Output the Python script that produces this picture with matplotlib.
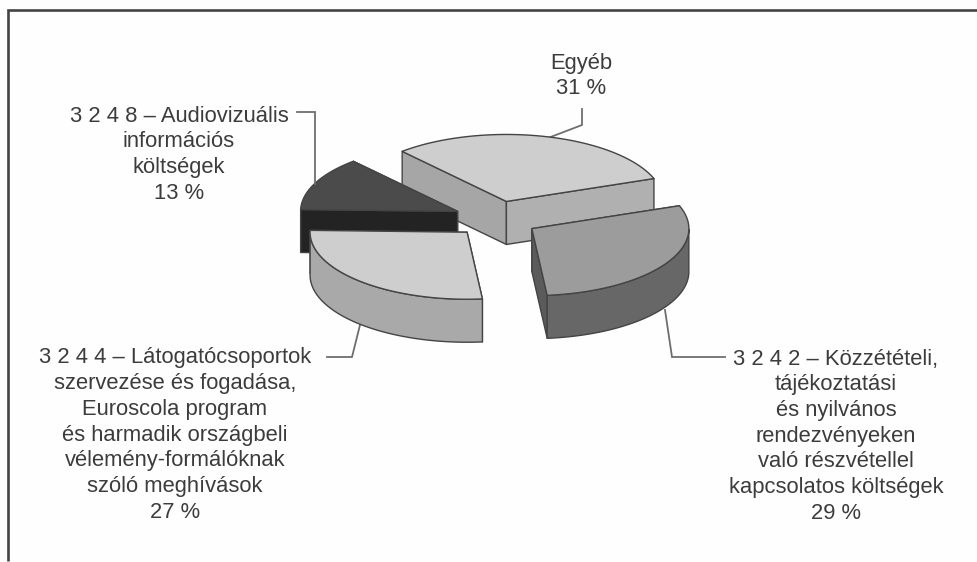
import numpy as np
import matplotlib
matplotlib.use("Agg")
import matplotlib.pyplot as plt
from matplotlib.patches import Polygon

plt.rcParams['font.family'] = ['Liberation Sans', 'DejaVu Sans']

# data
names = ["Egyéb", "3 2 4 2", "3 2 4 4", "3 2 4 8"]
values = [31, 29, 27, 13]
top_colors = ["#cecece", "#9c9c9c", "#cecece", "#4b4b4b"]
side_colors = ["#a9a9a9", "#676767", "#a9a9a9", "#232323"]
start_side = ["#a6a6a6", "#676767", "#a9a9a9", "#232323"]
end_side = ["#b0b0b0", "#5b5b5b", "#a9a9a9", "#232323"]
draw_order = [0, 3, 1, 2]

label_lines = [
    ["Egyéb", "31 %"],
    ["3 2 4 2 – Közzétételi,", "tájékoztatási", "és nyilvános", "rendezvényeken",
     "való részvétellel", "kapcsolatos költségek", "29 %"],
    ["3 2 4 4 – Látogatócsoportok", "szervezése és fogadása,", "Euroscola program",
     "és harmadik országbeli", "vélemény-formálóknak", "szóló meghívások", "27 %"],
    ["3 2 4 8 – Audiovizuális", "információs", "költségek", "13 %"],
]
label_x = [581, 836, 175, 179]
label_y = [63, 359, 358, 116]
line_pitch = 25.7

leaders = [
    ([548, 582, 582], [138, 125, 109]),
    ([665, 672, 725], [310, 357, 357]),
    ([360, 352, 327], [325, 357, 357]),
    ([315, 315, 297], [184, 112, 112]),
]

# pie projection parameters (pixels)
CX, CY = 496, 219
RX, RY = 157, 67
DEPTH = 43
EXPLODE = 0.27
START = 131.6
EDGE = "#444444"

fig = plt.figure(figsize=(9.77, 5.62), dpi=100)
ax = fig.add_axes([0, 0, 1, 1])
ax.set_xlim(0, 977)
ax.set_ylim(562, 0)
ax.axis("off")

# frame
ax.plot([8, 8, 977], [561, 10, 10], color="#444444", lw=1.9, solid_capstyle="butt",
        solid_joinstyle="miter")


def proj(cx, cy, deg, dz=0):
    t = np.radians(deg)
    return cx + RX * np.cos(t), cy - RY * np.sin(t) + dz


# wedge angles, clockwise from START
frac = np.array(values) / sum(values) * 360
ends = START - np.cumsum(frac)
starts = ends + frac


def face(pts, color, z):
    ax.add_patch(Polygon(pts, closed=True, facecolor=color, edgecolor=EDGE, lw=1.0,
                         joinstyle="round", zorder=z))


for rank, i in enumerate(draw_order):
    a0, a1 = starts[i], ends[i]
    mid = np.radians((a0 + a1) / 2)
    cx = CX + EXPLODE * RX * np.cos(mid)
    cy = CY - EXPLODE * RY * np.sin(mid)
    z = 2 + rank
    # radial side faces, the farther one first
    sides = sorted(((a1, end_side[i]), (a0, start_side[i])),
                   key=lambda p: -np.sin(np.radians(p[0])))
    for ang, col in sides:
        x, y = proj(cx, cy, ang)
        face([(cx, cy), (x, y), (x, y + DEPTH), (cx, cy + DEPTH)], col, z)
    # outer rim, the part facing the viewer
    th = np.linspace(a1, a0, 160)
    th = th[np.sin(np.radians(th)) <= 0.0]
    if len(th) > 1:
        xs, ys = proj(cx, cy, th)
        rim = list(zip(xs, ys)) + list(zip(xs[::-1], ys[::-1] + DEPTH))
        face(rim, side_colors[i], z)
    # top face
    th = np.linspace(a1, a0, 160)
    xs, ys = proj(cx, cy, th)
    face([(cx, cy)] + list(zip(xs, ys)), top_colors[i], z)

# leader lines
for lx, ly in leaders:
    ax.plot(lx, ly, color="#6e6e6e", lw=1.3, zorder=1.5 if lx[0] != 315 else 10,
            solid_joinstyle="miter")

# labels
for lines, x, y in zip(label_lines, label_x, label_y):
    for k, s in enumerate(lines):
        ax.text(x, y + k * line_pitch, s, ha="center", va="center",
                fontsize=15.8, color="#3c3c3c", zorder=20)

fig.savefig("out.png", dpi=100, facecolor="#fefefe")
